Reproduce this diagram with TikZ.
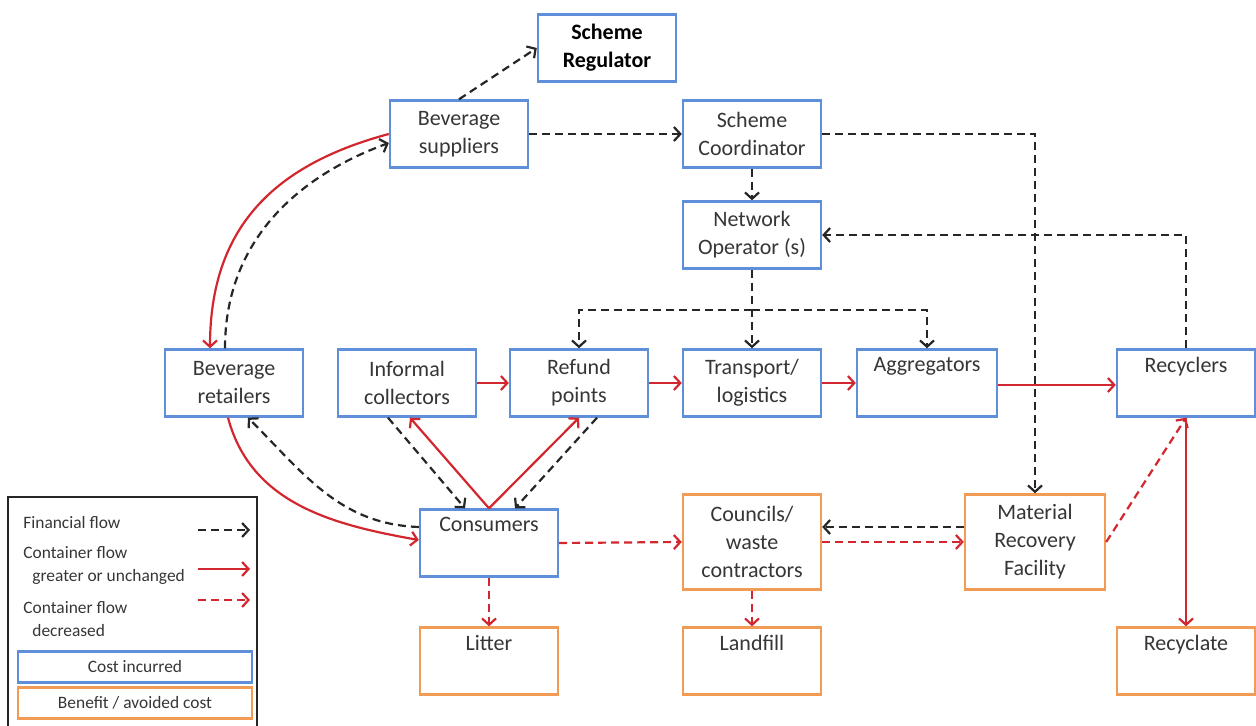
\documentclass[tikz,border=0pt]{standalone}
\usepackage{fontspec}
\setmainfont{Carlito}
\usetikzlibrary{arrows.meta}

\definecolor{BoxBlue}{HTML}{5E8FD8}
\definecolor{BoxOrange}{HTML}{F29B55}
\definecolor{FlowRed}{HTML}{D2272E}
\definecolor{FlowBlack}{HTML}{262626}
\definecolor{TextGrey}{HTML}{363636}

\tikzstyle{cost-box}=[draw=BoxBlue, line width=1.2pt, fill=white, minimum width=69pt, minimum height=33.5pt, align=center, text=TextGrey, font=\fontsize{11}{14}\selectfont, inner sep=2pt]
\tikzstyle{benefit-box}=[cost-box, draw=BoxOrange]
\tikzstyle{financial}=[FlowBlack, line width=1.1pt, dash pattern=on 4pt off 2.5pt, ->]
\tikzstyle{container}=[FlowRed, line width=1.1pt, ->]
\tikzstyle{container-down}=[container, dash pattern=on 4pt off 2.5pt]
\tikzstyle{legend-text}=[anchor=west, align=left, text=TextGrey, font=\fontsize{8.7}{11.5}\selectfont, inner sep=0pt]

\begin{document}
\begin{tikzpicture}[x=0.5pt, y=-0.5pt, >={Straight Barb[length=3.2pt, width=7pt]}]
  \useasboundingbox (0,0) rectangle (1256,726);

  % scheme side
  \node (box-regulator)   at (607,  48) [cost-box, text=black, font=\fontsize{11}{14}\selectfont\bfseries] {Scheme\\Regulator};
  \node (box-suppliers)   at (459, 134) [cost-box] {Beverage\\suppliers};
  \node (box-coordinator) at (752, 134) [cost-box] {Scheme\\Coordinator};
  \node (box-network)     at (752, 235) [cost-box] {Network\\Operator (s)};

  % collection chain
  \node (box-retailers)   at (234, 383) [cost-box] {Beverage\\retailers};
  \node (box-informal)    at (407, 383) [cost-box] {Informal\\collectors};
  \node (box-refund)      at (579, 383) [cost-box] {Refund\\points};
  \node (box-transport)   at (752, 383) [cost-box] {Transport/\\logistics};
  \node (box-aggregators) at (927, 383) [cost-box, minimum width=70pt] {Aggregators\\\strut};
  \node (box-recyclers)   at (1186,383) [cost-box] {Recyclers\\\strut};

  \node (box-consumers)   at (489, 543) [cost-box] {Consumers\\\strut};
  \node (box-councils)    at (752, 542) [benefit-box, minimum height=47.5pt] {Councils/\\waste\\contractors};
  \node (box-mrf)         at (1035,542) [benefit-box, minimum height=47.5pt, minimum width=70pt] {Material\\Recovery\\Facility};

  \node (box-litter)      at (489, 661) [benefit-box] {Litter\\\strut};
  \node (box-landfill)    at (752, 661) [benefit-box] {Landfill\\\strut};
  \node (box-recyclate)   at (1186,661) [benefit-box] {Recyclate\\\strut};

  % financial flows
  \draw[financial] (box-suppliers.north) -- (box-regulator.west);
  \draw[financial] (box-suppliers.east) -- (box-coordinator.west);
  \draw[financial] (box-coordinator.south) -- (box-network.north);
  \draw[financial] (box-coordinator.east) -| (box-mrf.north);
  \draw[financial] (box-recyclers.north) |- (box-network.east);
  \coordinate (split) at (752, 310);
  \draw[financial] (box-network.south) -- (box-transport.north);
  \draw[financial] (split) -| (box-refund.north);
  \draw[financial] (split) -| (box-aggregators.north);
  \draw[financial] ([xshift=-4.5pt]box-retailers.north) to[out=90, in=200] ([yshift=-4.5pt]box-suppliers.west);
  \draw[financial] ([yshift=8pt]box-consumers.west) to[out=178, in=-45] ([xshift=7pt]box-retailers.south);
  \draw[financial] ([xshift=-9.5pt]box-informal.south) -- ([xshift=-12pt]box-consumers.north);
  \draw[financial] ([xshift=9pt]box-refund.south) -- ([xshift=13pt]box-consumers.north);
  \draw[financial] ([yshift=7.5pt]box-mrf.west) -- ([yshift=7.5pt]box-councils.east);

  % container flows
  \draw[container] (box-suppliers.west) to[out=195, in=90, looseness=1.1] ([xshift=-12pt]box-retailers.north);
  \draw[container] ([xshift=-3pt]box-retailers.south) to[out=-75, in=170] ([yshift=1.5pt]box-consumers.west);
  \draw[container] (box-consumers.north) -- ([xshift=1.5pt]box-informal.south);
  \draw[container] (box-consumers.north) -- (box-refund.south);
  \draw[container] (box-informal.east) -- (box-refund.west);
  \draw[container] (box-refund.east) -- (box-transport.west);
  \draw[container] (box-transport.east) -- (box-aggregators.west);
  \draw[container] ([yshift=-1pt]box-aggregators.east) -- ([yshift=-1pt]box-recyclers.west);
  \draw[container] (box-recyclers.south) -- (box-recyclate.north);

  \draw[container-down] (box-consumers.east) -- (box-councils.west);
  \draw[container-down] (box-councils.east) -- (box-mrf.west);
  \draw[container-down] (box-consumers.south) -- (box-litter.north);
  \draw[container-down] (box-councils.south) -- (box-landfill.north);
  \draw[container-down] (box-mrf.east) -- (box-recyclers.south);

  % legend
  \draw[FlowBlack, line width=1.2pt] (8,726) -- (8,497) -- (257,497) -- (257,726);
  \node (legend-1) at (23, 523) [legend-text] {Financial flow};
  \node (legend-2) at (23, 566) [legend-text] {Container flow\\\hspace*{4.5pt}greater or unchanged};
  \node (legend-3) at (23, 619) [legend-text] {Container flow\\\hspace*{4.5pt}decreased};
  \coordinate (legend-1-a) at (198, 530);
  \coordinate (legend-1-b) at (250, 530);
  \coordinate (legend-2-a) at (198, 569);
  \coordinate (legend-2-b) at (250, 569);
  \coordinate (legend-3-a) at (198, 600);
  \coordinate (legend-3-b) at (250, 600);
  \draw[financial] (legend-1-a) -- (legend-1-b);
  \draw[container] (legend-2-a) -- (legend-2-b);
  \draw[container-down] (legend-3-a) -- (legend-3-b);
  \node (legend-cost)    at (135, 667) [cost-box, minimum width=117pt, minimum height=15.5pt, font=\fontsize{8.7}{11.5}\selectfont] {Cost incurred};
  \node (legend-benefit) at (135, 703) [benefit-box, minimum width=117pt, minimum height=15.5pt, font=\fontsize{8.7}{11.5}\selectfont] {Benefit / avoided cost};
\end{tikzpicture}
\end{document}
